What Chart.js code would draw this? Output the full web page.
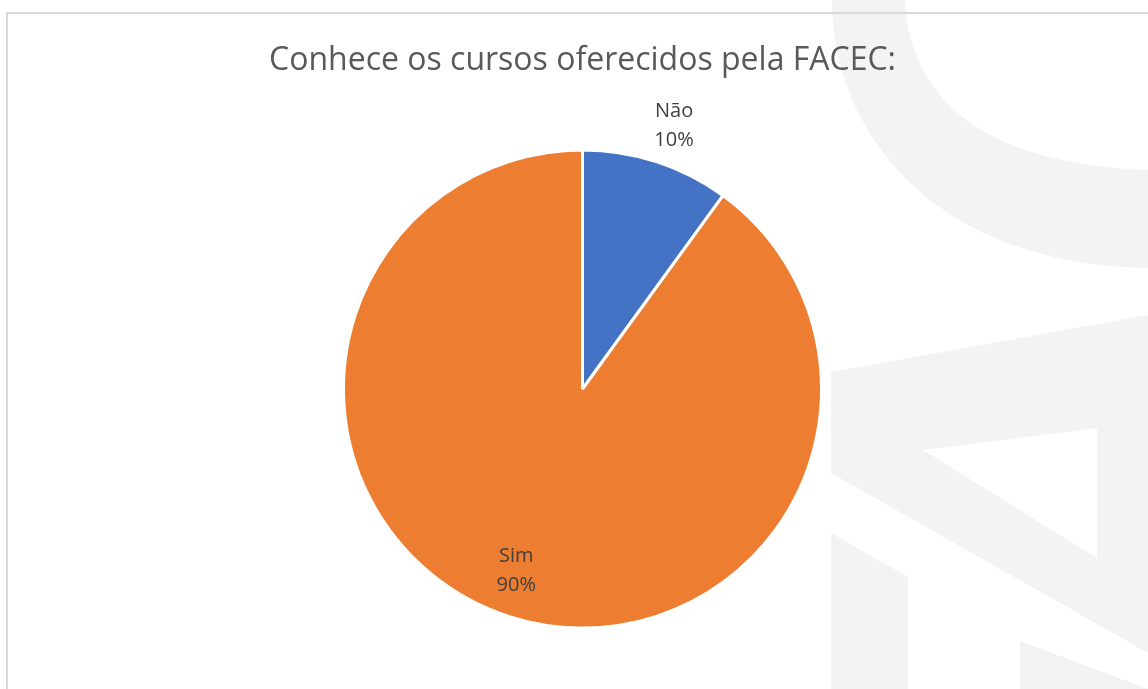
<!DOCTYPE html>
<html>
<head>
<meta charset="utf-8">
<script src="https://cdn.jsdelivr.net/npm/chart.js@4/dist/chart.umd.min.js"></script>
<style>
  html, body { margin: 0; padding: 0; background: #ffffff; }
  #wrap { position: relative; width: 1148px; height: 689px; overflow: hidden; background: #ffffff; }
  #wm { position: absolute; left: 0; top: 0; }
  #frame { position: absolute; left: 6px; top: 12px; width: 2000px; height: 2000px;
           border-left: 2px solid #d9d9d9; border-top: 2px solid #d9d9d9; box-sizing: border-box; }
  #c { position: absolute; left: 0; top: 0; }
</style>
</head>
<body>
<div id="wrap">
  <svg id="wm" width="1148" height="689" xmlns="http://www.w3.org/2000/svg">
    <g fill="#f3f3f3">
      <path d="M832,0 L832,12 C840,150 950,265 1148,268 L1148,170 C1000,165 910,110 905,0 Z"/>
      <polygon points="831,372 1148,315 1148,653 831,473"/>
      <polygon points="831,533 908,577 908,689 831,689"/>
      <polygon points="1020,641 1148,689 1020,689"/>
    </g>
    <polygon points="923,450 1097,428 1097,558" fill="#ffffff"/>
  </svg>
  <div id="frame"></div>
  <canvas id="c" width="1148" height="689"></canvas>
</div>
<script>
const categories = ['Não', 'Sim'];
const values = [10, 90];
const sliceColors = ['#4472C4', '#ED7D31'];
const chartTitle = 'Conhece os cursos oferecidos pela FACEC:';

const labelPlacement = { radiusFactor: [1.165, 0.81], angleShiftDeg: [1.2, 2.0] };

const pieLabels = {
  id: 'pieLabels',
  afterDatasetsDraw(chart) {
    const ctx = chart.ctx;
    const meta = chart.getDatasetMeta(0);
    const data = chart.data.datasets[0].data;
    const total = data.reduce((a, b) => a + b, 0);
    ctx.save();
    ctx.font = '20px "Open Sans", sans-serif';
    ctx.fillStyle = '#404040';
    ctx.textAlign = 'center';
    ctx.textBaseline = 'middle';
    meta.data.forEach((arc, i) => {
      const p = arc.getProps(['x', 'y', 'startAngle', 'endAngle', 'outerRadius'], true);
      const mid = (p.startAngle + p.endAngle) / 2 + labelPlacement.angleShiftDeg[i] * Math.PI / 180;
      const r = p.outerRadius * labelPlacement.radiusFactor[i];
      const x = p.x + Math.cos(mid) * r;
      const y = p.y + Math.sin(mid) * r;
      const pct = Math.round(data[i] / total * 100) + '%';
      ctx.fillText(chart.data.labels[i], x, y - 14.5);
      ctx.fillText(pct, x, y + 14.5);
    });
    ctx.restore();
  }
};

new Chart(document.getElementById('c'), {
  type: 'pie',
  data: {
    labels: categories,
    datasets: [{
      data: values,
      backgroundColor: sliceColors,
      borderColor: '#ffffff',
      borderWidth: 3,
      hoverOffset: 0
    }]
  },
  options: {
    responsive: false,
    animation: false,
    layout: { padding: { left: 17, right: 0, top: 0, bottom: 59.5 } },
    plugins: {
      legend: { display: false },
      tooltip: { enabled: false },
      title: {
        display: true,
        text: chartTitle,
        color: '#595959',
        font: { family: '"Open Sans", sans-serif', size: 32, weight: 'normal', lineHeight: 1.2 },
        padding: { top: 42, bottom: 68.1 }
      }
    }
  },
  plugins: [pieLabels]
});
</script>
</body>
</html>
